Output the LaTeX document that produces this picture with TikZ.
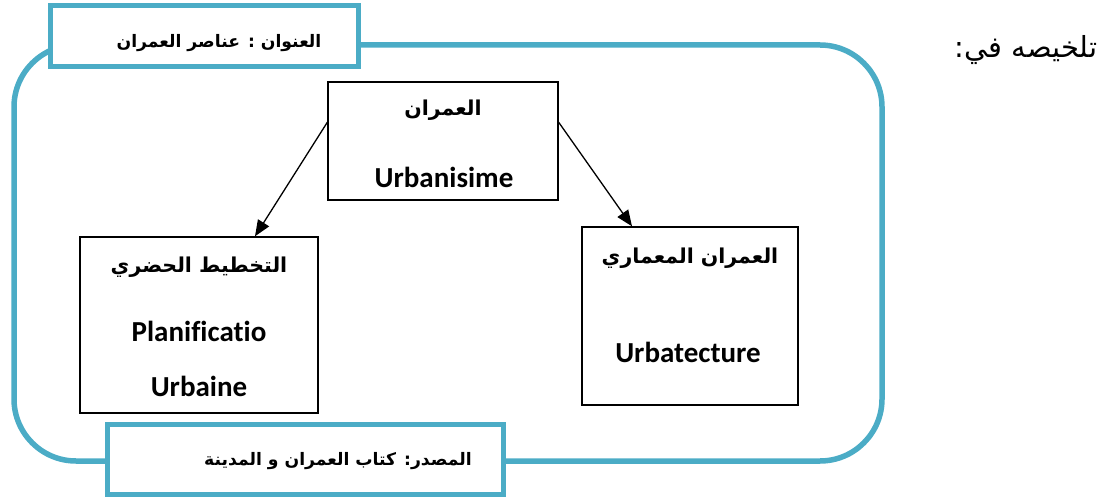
\documentclass[tikz,border=0pt]{standalone}
\usepackage{fontspec}
\setmainfont[Ligatures=NoCommon]{Carlito}
\newfontfamily\arabicfont[Script=Arabic]{DejaVu Sans}
\TeXXeTstate=1
\usetikzlibrary{arrows.meta,positioning,calc}
\definecolor{frameblue}{HTML}{4BACC6}
\newcommand{\artxt}[1]{{\arabicfont\beginR #1\endR}}

\begin{document}
\begin{tikzpicture}[x=1pt,y=-1pt,
  tealbox/.style={draw=frameblue, line width=5pt, fill=white, inner sep=0pt},
  conceptbox/.style={draw=black, line width=1.4pt, fill=white, inner sep=0pt},
  artitle/.style={font=\bfseries\fontsize{17.2}{20}\selectfont},
  arlabel/.style={font=\bfseries\fontsize{20.5}{23}\selectfont},
  frlabel/.style={font=\bfseries\fontsize{29}{33}\selectfont},
  link/.style={-{Triangle[length=16pt,width=13pt]}, line width=1.3pt}]
  \useasboundingbox (0,0) rectangle (1107,497);

  % ======= outer frame =======
  \draw[frameblue, line width=5.5pt, rounded corners=62pt] (14,45) rectangle (882,461);

  % title and source
  \node[tealbox, minimum width=308pt, minimum height=61pt] (title) at (204,36) {};
  \node[artitle] (titletxt) at (219,43) {\artxt{العنوان : عناصر العمران}};
  \node[tealbox, minimum width=396pt, minimum height=70pt] (source) at (305,459) {};
  \node[artitle] (sourcetxt) at (338,461) {\artxt{المصدر: كتاب العمران و المدينة}};

  % ======= concept boxes =======
  \node[conceptbox, minimum width=230pt, minimum height=118pt] (urb) at (443,141) {};
  \node[arlabel] (urbar) at (443,110) {\artxt{العمران}};
  \node[frlabel] (urbfr) at (444,177) {Urbanisime};

  \node[conceptbox, minimum width=238pt, minimum height=176pt] (plan) at (199,325) {};
  \node[arlabel] (planar) at (199,267) {\artxt{التخطيط الحضري}};
  \node[frlabel] (planfr) at (199,331) {Planificatio};
  \node[frlabel] (planfr2) at (199,386) {Urbaine};

  \node[conceptbox, minimum width=216pt, minimum height=178pt] (arch) at (690,316) {};
  \node[arlabel] (archar) at (690,258) {\artxt{العمران المعماري}};
  \node[frlabel] (archfr) at (688,352) {Urbatecture};

  % arrows
  \draw[link] ($(urb.north west)+(0,41)$) -- ($(plan.north)+(56,0)$);
  \draw[link] ($(urb.north east)+(0,41)$) -- ($(arch.north)+(-58,0)$);

  % side note
  \node[font=\fontsize{29}{33}\selectfont] (summary) at (1026,50) {\artxt{تلخيصه في:}};
\end{tikzpicture}
\end{document}
